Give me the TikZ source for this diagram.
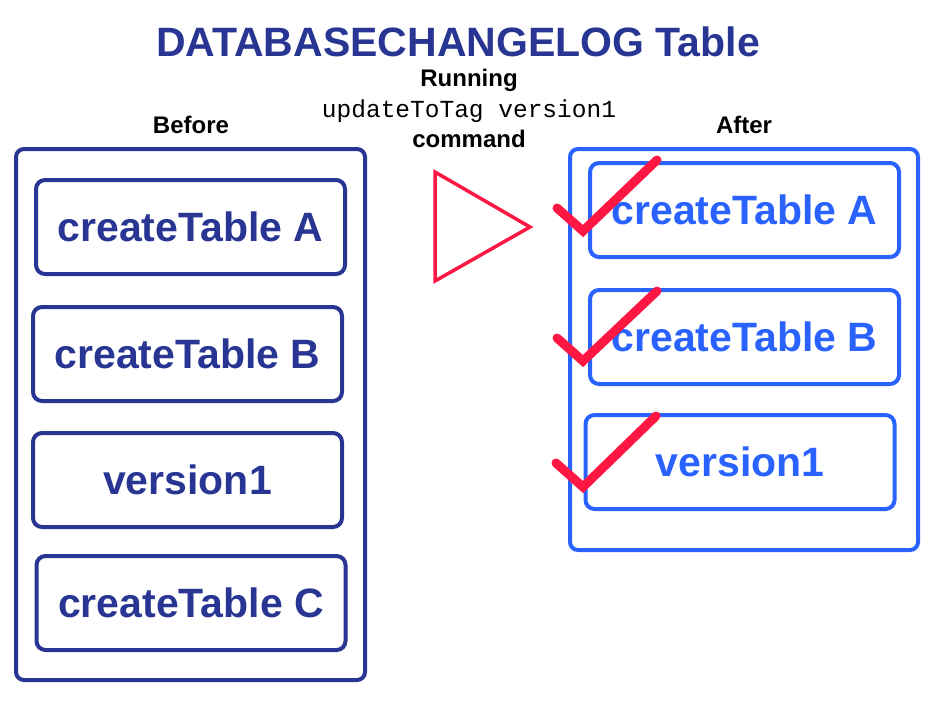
\documentclass[tikz,border=0pt]{standalone}
\usepackage{fontspec}
\setmainfont{Liberation Sans}
\setmonofont{Liberation Mono}
\definecolor{navy}{RGB}{40,53,147}
\definecolor{brightblue}{RGB}{41,98,255}
\definecolor{checkred}{RGB}{255,23,68}
\tikzset{
  outerbox/.style={draw, line width=4pt, rounded corners=8pt, inner sep=0pt},
  entrybox/.style={draw, line width=4pt, rounded corners=9pt, inner sep=0pt,
    minimum width=309pt, minimum height=94pt, font=\fontsize{41}{48}\selectfont\bfseries},
  headlabel/.style={font=\fontsize{24}{28}\selectfont\bfseries},
  tick/.style={checkred, line width=9pt, line cap=round, line join=miter}
}
\begin{document}
\begin{tikzpicture}[x=1pt,y=1pt,yscale=-1,xscale=1]
\useasboundingbox (0,0) rectangle (934,705);

% --- title and command text ---
\node [navy, font=\fontsize{41}{48}\selectfont\bfseries] (title) at (458,42) {DATABASECHANGELOG Table};
\node [headlabel] (running) at (469,80) {Running};
\node [font=\fontsize{24.5}{28}\selectfont\ttfamily] (cmd) at (469,111) {updateToTag version1};
\node [headlabel] (command) at (469,139) {command};

\node [headlabel] (before) at (191,125) {Before};
\node [headlabel] (after) at (744,125) {After};

% --- before table ---
\node [outerbox, navy, minimum width=349pt, minimum height=531pt] (leftframe) at (190.5,414.5) {};
\node [entrybox, navy] (lA) at (190.5,227) {createTable A};
\node [entrybox, navy] (lB) at (187.5,354) {createTable B};
\node [entrybox, navy] (lV) at (187.5,480) {version1};
\node [entrybox, navy] (lC) at (191,603) {createTable C};

% --- arrow triangle ---
\draw [checkred, line width=3.5pt, line join=miter] (435,172) -- (435,281) -- (530,227) -- cycle;

% --- after table ---
\node [outerbox, brightblue, minimum width=348pt, minimum height=401pt] (rightframe) at (744,349.5) {};
\node [entrybox, brightblue] (rA) at (744.5,210) {createTable A};
\node [entrybox, brightblue] (rB) at (744.5,337) {createTable B};
\node [entrybox, brightblue] (rV) at (740,462) {version1};

% --- check marks ---
\draw [tick] (557,208) -- (583,231) -- (657,160);
\draw [tick] (557,338) -- (583,361) -- (657,291);
\draw [tick] (556,463) -- (583,487) -- (656,416);

\end{tikzpicture}
\end{document}
